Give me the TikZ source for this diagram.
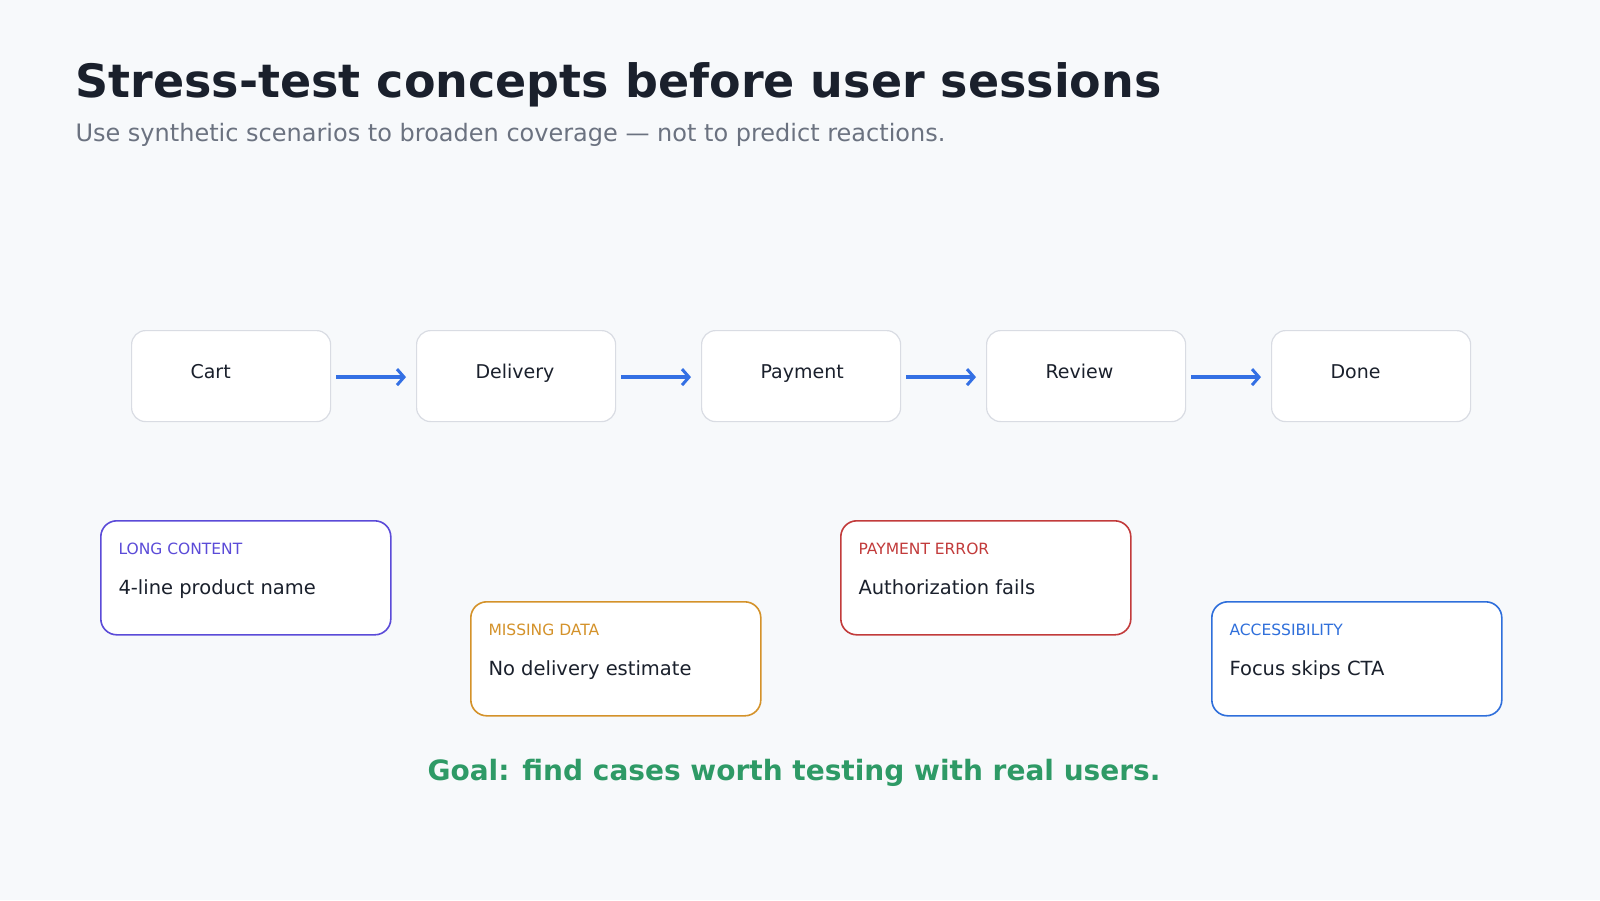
\documentclass[tikz,border=0pt]{standalone}
\usepackage{fontspec}
\setmainfont{DejaVu Sans}
\usetikzlibrary{arrows.meta,positioning}
\definecolor{bgcol}{HTML}{F7F9FB}
\definecolor{titlecol}{HTML}{1A202C}
\definecolor{subcol}{HTML}{6B7280}
\definecolor{stepline}{HTML}{D9DCE3}
\definecolor{flowblue}{HTML}{3470E4}
\definecolor{longcol}{HTML}{5B4BD8}
\definecolor{misscol}{HTML}{D4922A}
\definecolor{errcol}{HTML}{C23B3B}
\definecolor{accol}{HTML}{2F6FDB}
\definecolor{goalcol}{HTML}{2E9A66}
\tikzset{
  stagebox/.style={draw=stepline, line width=1.2pt, fill=white, rounded corners=14pt,
    minimum width=199pt, minimum height=91pt, anchor=north west},
  stagetext/.style={anchor=base west, font=\fontsize{19}{23}\selectfont, text=titlecol},
  flow/.style={draw=flowblue, line width=4pt, arrows={-Straight Barb[length=7pt, width=16pt, line width=3pt]}},
  case/.style={draw=#1, line width=1.6pt, fill=white, rounded corners=16pt,
    minimum width=290pt, minimum height=114pt, anchor=north west},
  casetag/.style={anchor=base west, font=\fontsize{15.5}{19}\selectfont, text=#1},
  casetext/.style={anchor=base west, font=\fontsize{19.5}{24}\selectfont, text=titlecol}
}
\begin{document}
\begin{tikzpicture}[x=1pt,y=-1pt]
    \fill[bgcol] (0,0) rectangle (1600,900);
    \useasboundingbox (0,0) rectangle (1600,900);
    \node (title) [anchor=base west, font=\fontsize{46}{54}\selectfont\bfseries, text=titlecol]
        at (72,97) {Stress-test concepts before user sessions};
    \node (subtitle) [anchor=base west, font=\fontsize{24}{28}\selectfont, text=subcol]
        at (72,141) {Use synthetic scenarios to broaden coverage — not to predict reactions.};
    % flow stages
    \foreach \name/\label [count=\i from 0] in {cart/Cart,delivery/Delivery,payment/Payment,review/Review,done/Done}{
        \node (\name) [stagebox] at (131+285*\i,330) {};
        \node (\name-t) [stagetext] at (187+285*\i,378) {\label};
    }
    \foreach \a/\b in {cart/delivery,delivery/payment,payment/review,review/done}
        \draw[flow] ([xshift=5pt,yshift=-1pt]\a.east) -- ([xshift=-10pt,yshift=-1pt]\b.west);
    % scenario cards
    \foreach \name/\col/\tag/\txt/\x/\y in {
        long/longcol/LONG CONTENT/4-line product name/100/520,
        miss/misscol/MISSING DATA/No delivery estimate/470/601,
        err/errcol/PAYMENT ERROR/Authorization fails/840/520,
        acc/accol/ACCESSIBILITY/Focus skips CTA/1211/601}{
        \node (\name) [case=\col] at (\x,\y) {};
        \node (\name-tag) [casetag=\col] at (\x+15,\y+34) {\tag};
        \node (\name-txt) [casetext] at (\x+15,\y+74) {\txt};
    }
    \node (goal) [anchor=base, font=\fontsize{28}{32}\selectfont\bfseries, text=goalcol]
        at (794,780) {Goal: find cases worth testing with real users.};
\end{tikzpicture}
\end{document}
